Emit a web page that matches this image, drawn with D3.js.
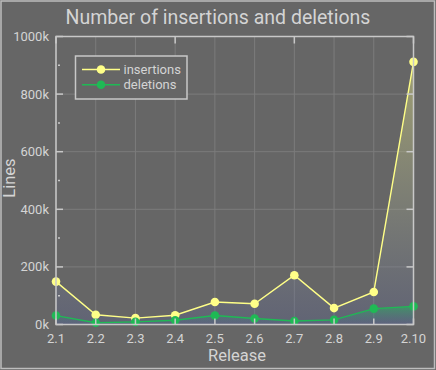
<!DOCTYPE html>
<html>
<head>
<meta charset="utf-8">
<script src="https://cdn.jsdelivr.net/npm/d3@7"></script>
<style>
  html, body { margin: 0; padding: 0; background: #666666; }
  svg { display: block; font-family: Roboto, "Noto Sans", sans-serif; }
</style>
</head>
<body>
<div id="chart"></div>
<script>
// Insertions / deletions per release

const releases = ["2.1", "2.2", "2.3", "2.4", "2.5", "2.6", "2.7", "2.8", "2.9", "2.10"];
const insertions = [149000, 34000, 22000, 32000, 78000, 72000, 171000, 57000, 113000, 912000];
const deletions = [31000, 6000, 9000, 15000, 31000, 21000, 12000, 16000, 55000, 63000];
const yTicks = [0, 200000, 400000, 600000, 800000, 1000000];
const yMinorTicks = [100000, 300000, 500000, 700000, 900000];

const W = 436, H = 370;
const plot = { left: 56, right: 413.5, top: 36.5, bottom: 324.5 };

const textColor = "#d4d4d4";
const frameColor = "#c8c8c8";
const gridColor = "#7c7c7c";

const series = [
  { name: "insertions", values: insertions, color: "#ffff88", grad: "gradIns",
    top: "rgba(255,255,136,0.38)", bottom: "rgba(85,95,150,0.3)" },
  { name: "deletions", values: deletions, color: "#1fb955", grad: "gradDel",
    top: "rgba(30,190,90,0.5)", bottom: "rgba(85,95,150,0.25)" },
];

const svg = d3.select("#chart").append("svg")
  .attr("width", W)
  .attr("height", H);

// background and outer frame
svg.append("rect").attr("width", W).attr("height", H).attr("fill", "#666666");
svg.append("rect")
  .attr("x", 1).attr("y", 1).attr("width", W - 2.5).attr("height", H - 2.5)
  .attr("fill", "none").attr("stroke", "#bdbdbd").attr("stroke-width", 1.5);

// scales
const x = d3.scalePoint().domain(releases).range([plot.left, plot.right]);
const y = d3.scaleLinear().domain([0, 1000000]).range([plot.bottom, plot.top]);

// gradients for the filled areas
const defs = svg.append("defs");
series.forEach((s) => {
  const g = defs.append("linearGradient")
    .attr("id", s.grad)
    .attr("x1", 0).attr("y1", 0).attr("x2", 0).attr("y2", 1);
  g.append("stop").attr("offset", "0%").attr("stop-color", s.top);
  g.append("stop").attr("offset", "100%").attr("stop-color", s.bottom);
});

// grid
svg.append("g")
  .selectAll("line")
  .data(releases)
  .join("line")
  .attr("x1", (d) => x(d)).attr("x2", (d) => x(d))
  .attr("y1", plot.top).attr("y2", plot.bottom)
  .attr("stroke", gridColor).attr("stroke-width", 1);

svg.append("g")
  .selectAll("line")
  .data(yTicks)
  .join("line")
  .attr("x1", plot.left).attr("x2", plot.right)
  .attr("y1", (d) => y(d)).attr("y2", (d) => y(d))
  .attr("stroke", gridColor).attr("stroke-width", 1);

// areas, lines, markers
series.forEach((s) => {
  const pts = releases.map((r, i) => ({ r: r, v: s.values[i] }));

  const area = d3.area()
    .x((d) => x(d.r))
    .y0(y(0))
    .y1((d) => y(d.v));

  const line = d3.line()
    .x((d) => x(d.r))
    .y((d) => y(d.v));

  svg.append("path")
    .datum(pts)
    .attr("d", area)
    .attr("fill", `url(#${s.grad})`);

  s.pts = pts;
  s.line = line;
});

series.forEach((s) => {
  svg.append("path")
    .datum(s.pts)
    .attr("d", s.line)
    .attr("fill", "none")
    .attr("stroke", s.color)
    .attr("stroke-width", 1.4);

  svg.append("g")
    .selectAll("circle")
    .data(s.pts)
    .join("circle")
    .attr("cx", (d) => x(d.r))
    .attr("cy", (d) => y(d.v))
    .attr("r", 4.3)
    .attr("fill", s.color);
});

// frame with inward ticks
const frame = svg.append("g").attr("stroke", frameColor).attr("stroke-width", 1.5);
frame.append("rect")
  .attr("x", plot.left).attr("y", plot.top)
  .attr("width", plot.right - plot.left).attr("height", plot.bottom - plot.top)
  .attr("fill", "none");

// left major ticks
frame.selectAll(".ltick")
  .data(yTicks)
  .join("line")
  .attr("x1", plot.left).attr("x2", plot.left + 7)
  .attr("y1", (d) => y(d)).attr("y2", (d) => y(d));

// left minor ticks
frame.selectAll(".lminor")
  .data(yMinorTicks)
  .join("line")
  .attr("class", "lminor")
  .attr("x1", plot.left + 2).attr("x2", plot.left + 4)
  .attr("y1", (d) => y(d)).attr("y2", (d) => y(d));

// right ticks
frame.selectAll(".rtick")
  .data(yTicks)
  .join("line")
  .attr("class", "rtick")
  .attr("x1", plot.right - 7).attr("x2", plot.right)
  .attr("y1", (d) => y(d)).attr("y2", (d) => y(d));

// bottom ticks
frame.selectAll(".btick")
  .data(releases)
  .join("line")
  .attr("class", "btick")
  .attr("x1", (d) => x(d)).attr("x2", (d) => x(d))
  .attr("y1", plot.bottom - 6).attr("y2", plot.bottom);

// top ticks (every third release)
frame.selectAll(".ttick")
  .data(releases.filter((d, i) => i % 3 === 0))
  .join("line")
  .attr("class", "ttick")
  .attr("x1", (d) => x(d)).attr("x2", (d) => x(d))
  .attr("y1", plot.top).attr("y2", plot.top + 7);

// tick labels
svg.append("g")
  .selectAll("text")
  .data(yTicks)
  .join("text")
  .attr("x", plot.left - 7)
  .attr("y", (d) => y(d))
  .attr("dy", "0.35em")
  .attr("text-anchor", "end")
  .attr("fill", textColor)
  .style("font-size", "13px")
  .text((d) => `${d / 1000}k`);

svg.append("g")
  .selectAll("text")
  .data(releases)
  .join("text")
  .attr("x", (d) => x(d))
  .attr("y", 343)
  .attr("text-anchor", "middle")
  .attr("fill", textColor)
  .style("font-size", "13px")
  .text((d) => d);

// titles
svg.append("text")
  .attr("x", 218)
  .attr("y", 24)
  .attr("text-anchor", "middle")
  .attr("fill", textColor)
  .style("font-size", "19.5px")
  .text("Number of insertions and deletions");

svg.append("text")
  .attr("x", 237)
  .attr("y", 361)
  .attr("text-anchor", "middle")
  .attr("fill", textColor)
  .style("font-size", "16.5px")
  .text("Release");

svg.append("text")
  .attr("transform", `translate(14.5,178) rotate(-90)`)
  .attr("text-anchor", "middle")
  .attr("fill", textColor)
  .style("font-size", "16.5px")
  .text("Lines");

// legend
const legend = svg.append("g");
legend.append("rect")
  .attr("x", 75.5).attr("y", 56)
  .attr("width", 111.5).attr("height", 43)
  .attr("fill", "#666666")
  .attr("stroke", frameColor)
  .attr("stroke-width", 1.5);

series.forEach((s, i) => {
  const ly = 69.5 + i * 15.3;
  legend.append("line")
    .attr("x1", 82).attr("x2", 120)
    .attr("y1", ly).attr("y2", ly)
    .attr("stroke", s.color).attr("stroke-width", 1.4);
  legend.append("circle")
    .attr("cx", 101).attr("cy", ly).attr("r", 4.3)
    .attr("fill", s.color);
  legend.append("text")
    .attr("x", 123.5).attr("y", ly)
    .attr("dy", "0.35em")
    .attr("fill", textColor)
    .style("font-size", "13px")
    .text(s.name);
});
</script>
</body>
</html>
